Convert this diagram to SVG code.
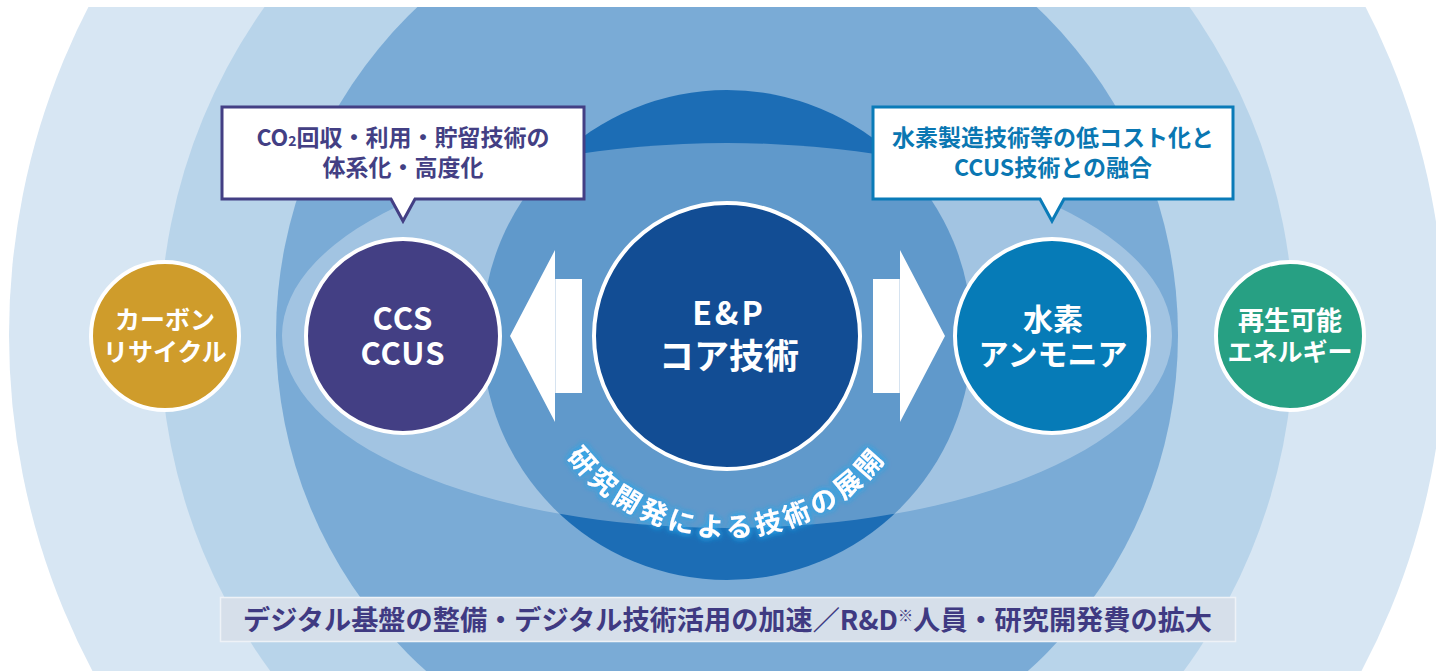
<svg xmlns="http://www.w3.org/2000/svg" width="1436" height="671" viewBox="0 0 1436 671">
<defs>
<style>
.t{font-family:"Noto Sans CJK JP","Noto Sans",sans-serif;font-weight:700;text-anchor:middle}
.w{fill:#fff}
.node{stroke:#fff;stroke-width:4}
.arrow{fill:#fff}
.seam{stroke:#d6e3f0;stroke-width:1}
</style>
<filter id="glow" x="-20%" y="-50%" width="140%" height="200%">
<feGaussianBlur in="SourceAlpha" stdDeviation="3" result="b"/>
<feFlood flood-color="#2aa8ec"/>
<feComposite in2="b" operator="in" result="g"/>
<feMerge><feMergeNode in="g"/><feMergeNode in="g"/><feMergeNode in="SourceGraphic"/></feMerge>
</filter>
<path id="arc" d="M538.1,404.7 A201,201 0 0,0 915.9,404.7"/>
</defs>

<g id="background">
<rect width="1436" height="671" fill="#fff"/>
<circle cx="727" cy="335" r="718" fill="#d7e6f3"/>
<circle cx="727" cy="335" r="567" fill="#b8d4ea"/>
<circle cx="727" cy="335" r="451" fill="#7aabd6"/>
<circle cx="727" cy="335" r="245" fill="#1c6db5"/>
<ellipse cx="727" cy="335.5" rx="445" ry="192.5" fill="#fff" fill-opacity="0.3"/>
<rect width="1436" height="7" fill="#fff"/>
</g>

<g id="arc-label">
<text class="t" font-weight="400" font-size="27" fill="#fff" filter="url(#glow)" letter-spacing="4"><textPath href="#arc" startOffset="50%">研究開発による技術の展開</textPath></text>
</g>

<g id="connectors">
<polygon class="arrow" points="510,336 555,250 555,279 582,279 582,393 555,393 555,422"/>
<line class="seam" x1="555.5" y1="279" x2="555.5" y2="393"/>
<polygon class="arrow" points="945,336 900,250 900,279 873,279 873,393 900,393 900,422"/>
<line class="seam" x1="899.5" y1="279" x2="899.5" y2="393"/>
</g>

<g id="node-carbon">
<circle class="node" cx="165" cy="336" r="74" fill="#cf9c2b"/>
<text class="t w" font-size="25" x="165" y="329">カーボン</text>
<text class="t w" font-size="25" x="165" y="361">リサイクル</text>
</g>

<g id="node-ccs">
<circle class="node" cx="403" cy="336" r="97" fill="#433f84"/>
<text class="t w" font-size="31" x="403" y="330" letter-spacing="1">CCS</text>
<text class="t w" font-size="31" x="403" y="365" letter-spacing="1">CCUS</text>
</g>

<g id="node-ep">
<circle class="node" cx="727" cy="336" r="133" fill="#124d94"/>
<text class="t w" font-size="32" x="729" y="325" letter-spacing="3">E&amp;P</text>
<text class="t w" font-size="35" x="729" y="369">コア技術</text>
</g>

<g id="node-hydrogen">
<circle class="node" cx="1052" cy="336" r="97" fill="#067bb7"/>
<text class="t w" font-size="30" x="1053" y="330">水素</text>
<text class="t w" font-size="30" x="1053" y="365">アンモニア</text>
</g>

<g id="node-renewable">
<circle class="node" cx="1290" cy="336" r="74" fill="#27a083"/>
<text class="t w" font-size="26" x="1290" y="330">再生可能</text>
<text class="t w" font-size="25" x="1290" y="361">エネルギー</text>
</g>

<g id="callout-ccs">
<path d="M222,107 H584 V199 H415 L403,221 L391,199 H222 Z" fill="#fff" stroke="#433f84" stroke-width="3"/>
<text class="t" font-size="23" x="403" y="146" fill="#433f84">CO<tspan font-size="14">2</tspan>回収・利用・貯留技術の</text>
<text class="t" font-size="23" x="403" y="176" fill="#433f84">体系化・高度化</text>
</g>

<g id="callout-hydrogen">
<path d="M873,107 H1233 V199 H1064 L1052,221 L1040,199 H873 Z" fill="#fff" stroke="#0a7bb8" stroke-width="3"/>
<text class="t" font-size="23" x="1053" y="146" fill="#0a77b2">水素製造技術等の低コスト化と</text>
<text class="t" font-size="23" x="1053" y="176" fill="#0a77b2">CCUS技術との融合</text>
</g>

<g id="banner">
<rect x="220.5" y="597.5" width="1015" height="44" fill="#d6dfea" stroke="#eef2f7" stroke-width="1.5"/>
<text class="t" font-size="27" x="727.5" y="630" fill="#3f3a82" textLength="969" lengthAdjust="spacingAndGlyphs">デジタル基盤の整備・デジタル技術活用の加速／R&amp;D<tspan font-size="15" dy="-9">※</tspan><tspan dy="9">人員・研究開発費の拡大</tspan></text>
</g>
</svg>
